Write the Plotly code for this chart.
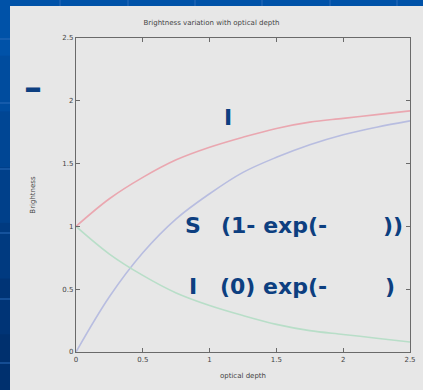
import plotly.graph_objects as go

# Data
tau = [0, 0.25, 0.5, 0.75, 1.0, 1.25, 1.5, 1.75, 2.0, 2.25, 2.5]
total_I = [1.0, 1.22, 1.39, 1.53, 1.63, 1.71, 1.78, 1.83, 1.86, 1.89, 1.92]
source_part = [0.0, 0.44, 0.79, 1.06, 1.26, 1.43, 1.55, 1.65, 1.73, 1.79, 1.84]
attenuated = [1.0, 0.78, 0.61, 0.47, 0.37, 0.29, 0.22, 0.17, 0.14, 0.11, 0.08]
x_ticks = [0, 0.5, 1, 1.5, 2, 2.5]
x_ticklabels = ["0", "0.5", "1", "1.5", "2", "2.5"]
y_ticks = [0, 0.5, 1, 1.5, 2, 2.5]
y_ticklabels = ["0", "0.5", "1", "1.5", "2", "2.5"]

W, H = 423, 390
L, R, T, B = 76, 13, 38, 38
pw, ph = W - L - R, H - T - B

def px(xp):
    return (xp - L) / pw

def py(yp):
    return (H - B - yp) / ph

fig = go.Figure()
fig.add_trace(go.Scatter(x=tau, y=total_I, mode="lines", line=dict(color="#eaa7b0", width=1.6, shape="spline"), showlegend=False, hoverinfo="skip"))
fig.add_trace(go.Scatter(x=tau, y=source_part, mode="lines", line=dict(color="#b8bde0", width=1.6, shape="spline"), showlegend=False, hoverinfo="skip"))
fig.add_trace(go.Scatter(x=tau, y=attenuated, mode="lines", line=dict(color="#b8dec8", width=1.6, shape="spline"), showlegend=False, hoverinfo="skip"))

shapes = []
# blue slide stripes (gradient on left)
blues = ["#0052a8", "#004c9e", "#004694", "#00408a", "#003a80", "#003476", "#00306e"]
n = len(blues)
for i, c in enumerate(blues):
    y0 = i * H / n
    y1 = (i + 1) * H / n
    shapes.append(dict(type="rect", xref="paper", yref="paper", x0=px(-2), x1=px(10.5),
                       y0=py(y1 + 1), y1=py(y0), fillcolor=c, line=dict(width=0), layer="below"))
for yy in [39, 103, 169, 233, 299, 363]:
    shapes.append(dict(type="line", xref="paper", yref="paper", x0=px(0), x1=px(10),
                       y0=py(yy), y1=py(yy), line=dict(color="#2a6ab8", width=1), layer="below"))
for xx in [60, 128, 195, 262, 330, 397]:
    shapes.append(dict(type="line", xref="paper", yref="paper", x0=px(xx), x1=px(xx),
                       y0=py(0), y1=py(6), line=dict(color="#2a6ab8", width=1), layer="below"))
# light panel
shapes.append(dict(type="rect", xref="paper", yref="paper", x0=px(10), x1=px(W + 2),
                   y0=py(H + 2), y1=py(6), fillcolor="#e7e7e7", line=dict(width=0), layer="below"))

txt_color = "#0d3f80"
font_big = dict(family="DejaVu Sans", size=22, color=txt_color)
anns = [
    dict(x=0.80, y=1.01, text="<b>S</b>", xanchor="left"),
    dict(x=1.07, y=1.01, text="<b>(1- exp(-</b>", xanchor="left"),
    dict(x=2.283, y=1.01, text="<b>))</b>", xanchor="left"),
    dict(x=0.83, y=0.52, text="<b>I</b>", xanchor="left"),
    dict(x=1.063, y=0.52, text="<b>(0) exp(-</b>", xanchor="left"),
    dict(x=2.30, y=0.52, text="<b>)</b>", xanchor="left"),
    dict(x=1.09, y=1.87, text="<b>I</b>", xanchor="left"),
]
annotations = []
for a in anns:
    a.update(xref="x", yref="y", showarrow=False, yanchor="middle", font=font_big)
    annotations.append(a)
annotations.append(dict(xref="paper", yref="paper", x=px(22), y=py(88), text="<b>–</b>",
                        xanchor="left", yanchor="middle", showarrow=False,
                        font=dict(family="DejaVu Sans", size=36, color=txt_color)))

axis_common = dict(showgrid=False, zeroline=False, showline=True, linecolor="#6a6a6a", linewidth=1.3,
                   mirror="ticks", ticks="inside", ticklen=4, tickcolor="#6a6a6a", automargin=False,
                   tickfont=dict(family="DejaVu Sans", size=7, color="#444444"))

fig.update_layout(
    width=W, height=H,
    margin=dict(l=L, r=R, t=T, b=B, autoexpand=False),
    paper_bgcolor="#0052a8", plot_bgcolor="#e7e7e7",
    title=dict(text="Brightness variation with optical depth", x=px(243), xanchor="center",
               y=1 - 23 / H, yanchor="middle", font=dict(family="DejaVu Sans", size=7, color="#444444")),
    xaxis=dict(range=[0, 2.5], tickvals=x_ticks, ticktext=x_ticklabels,
               title=dict(text="optical depth", font=dict(family="DejaVu Sans", size=7, color="#444444"), standoff=10),
               **axis_common),
    yaxis=dict(range=[0, 2.5], tickvals=y_ticks, ticktext=y_ticklabels,
               title=dict(text="Brightness", font=dict(family="DejaVu Sans", size=7, color="#444444"), standoff=25),
               **axis_common),
    shapes=shapes, annotations=annotations,
)
fig.write_html("out.html", config={"displayModeBar": False},
               post_script="document.body.style.margin='0';document.body.style.overflow='hidden';")
